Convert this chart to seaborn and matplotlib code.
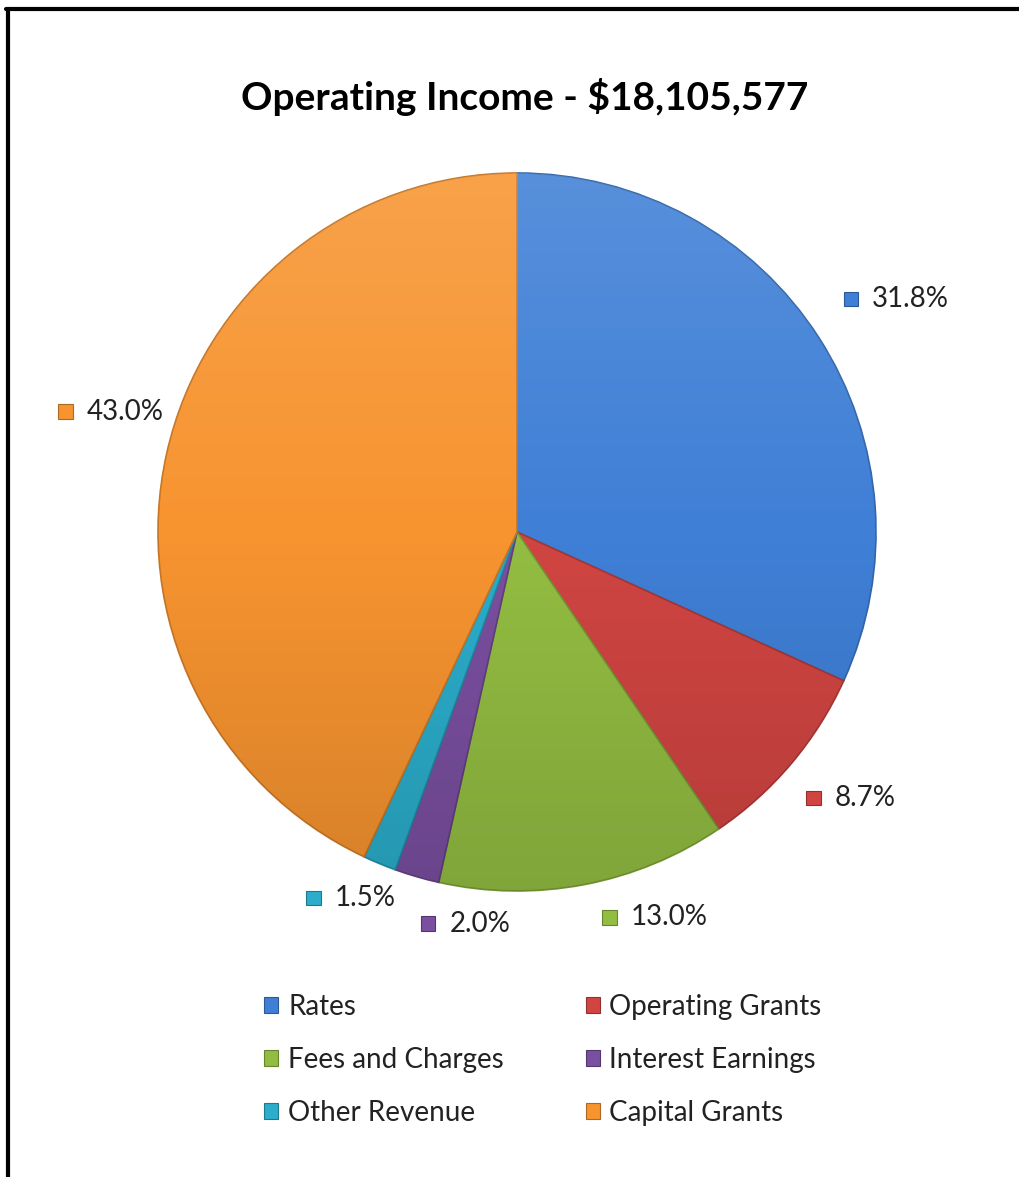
import matplotlib.pyplot as plt
import numpy as np
import seaborn as sns
from matplotlib.lines import Line2D
from matplotlib.patches import Circle, Rectangle
from matplotlib.offsetbox import AnnotationBbox, DrawingArea, HPacker, TextArea

categories = ["Rates", "Operating Grants", "Fees and Charges",
              "Interest Earnings", "Other Revenue", "Capital Grants"]
shares = [31.8, 8.7, 13.0, 2.0, 1.5, 43.0]
colors = ["#3f7fd6", "#d04542", "#93bd42", "#7a4fa0", "#2badcb", "#f79430"]
title = "Operating Income - $18,105,577"

# label placement around the pie: distance (pie radii) and angle nudge (deg)
label_dist = [1.24, 1.19, 1.14, 1.10, 1.12, 1.18]
label_nudge = [-1.2, 1.6, 8.9, 8.7, -1.9, -3.9]

sns.set_theme(style="white")
plt.rcParams["font.family"] = ["Lato", "DejaVu Sans"]
palette = sns.color_palette(colors)


def darker(c, f=0.75):
    return tuple(v * f for v in c)


W, H = 1020, 1177
fig = plt.figure(figsize=(W / 100, H / 100), dpi=100)
ax = fig.add_axes([0, 0, 1, 1])

# pie centre / radius in pixels
r_px, cx, cy = 359, 517, 645

wedges, _ = ax.pie(shares, colors=palette, startangle=90, counterclock=False,
                   radius=1, wedgeprops=dict(linewidth=1.2))
for w, c in zip(wedges, palette):
    w.set_edgecolor(darker(c, 0.8))

# soft vertical shading like the Excel bevel
grad = np.zeros((256, 1, 4))
t = np.linspace(0, 1, 256)
grad[:, 0, :3] = np.where(t < 0.5, 1.0, 0.0)[:, None]
grad[:, 0, 3] = np.abs(t - 0.5) * 0.26
im = ax.imshow(grad, extent=(-1, 1, -1, 1), origin="upper", zorder=3,
               interpolation="bilinear")
im.set_clip_path(Circle((0, 0), 1, transform=ax.transData))

for w, s, c, d, n in zip(wedges, shares, palette, label_dist, label_nudge):
    theta = np.deg2rad((w.theta1 + w.theta2) / 2 + n)
    x, y = d * np.cos(theta), d * np.sin(theta)
    da = DrawingArea(10.5, 10.5)
    da.add_artist(Rectangle((0, 0), 10.5, 10.5, fc=c, ec=darker(c, 0.7), lw=0.8))
    ta = TextArea(f"{s:.1f}%", textprops=dict(fontsize=20, color="#222222"))
    box = HPacker(children=[da, ta], align="center", pad=0, sep=10)
    ax.add_artist(AnnotationBbox(box, (x, y), frameon=False,
                                 box_alignment=(0.5, 0.5)))

ax.set_xlim(-cx / r_px, (W - cx) / r_px)
ax.set_ylim(-cy / r_px, (H - cy) / r_px)
ax.set_aspect("auto")
ax.axis("off")

fig.text(0.514, 1 - 97 / H, title, ha="center", va="center",
         fontsize=28, fontweight="bold", color="black")

handles = [Rectangle((0, 0), 1, 1, fc=c, ec=darker(c, 0.7), lw=0.8) for c in palette]
order = [0, 2, 4, 1, 3, 5]
fig.legend([handles[i] for i in order], [categories[i] for i in order],
           ncol=2, loc="center", bbox_to_anchor=(543 / W, 1 - 1060 / H),
           frameon=False, fontsize=20, handlelength=0.5, handleheight=0.5,
           handletextpad=0.35, columnspacing=2.95, labelspacing=0.98,
           labelcolor="#222222")

# chart frame: top and left edges only
fig.add_artist(Line2D([6 / W, 1], [1 - 9 / H, 1 - 9 / H], color="black",
                      lw=3, transform=fig.transFigure))
fig.add_artist(Line2D([8 / W, 8 / W], [0, 1 - 9 / H], color="black",
                      lw=3, transform=fig.transFigure))

fig.savefig("out.png", dpi=100, facecolor="white")
